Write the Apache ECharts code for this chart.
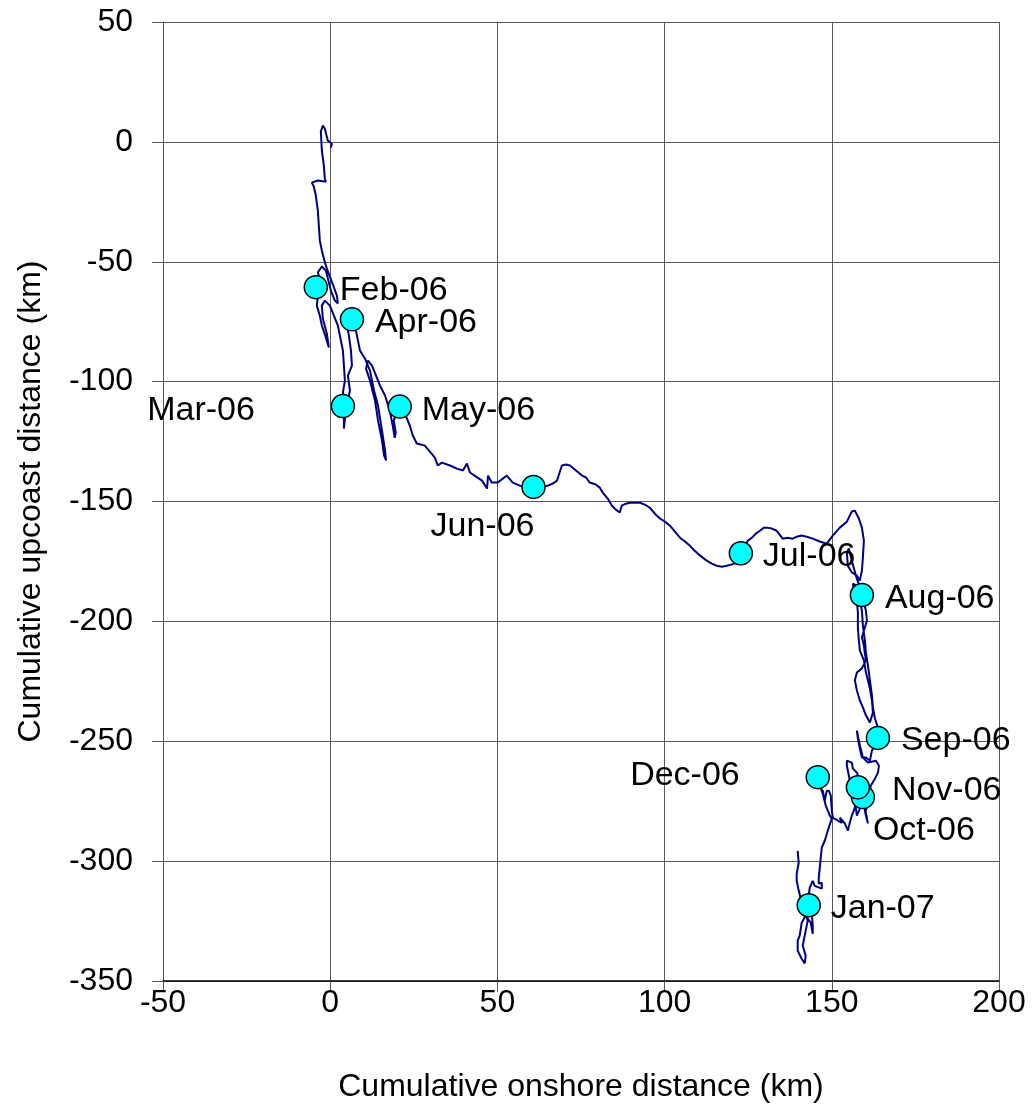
<!DOCTYPE html>
<html>
<head>
<meta charset="utf-8">
<title>Cumulative drift track</title>
<script src="https://cdn.jsdelivr.net/npm/echarts@6/dist/echarts.min.js"></script>
<style>
  html, body { margin: 0; padding: 0; background: #ffffff; }
  #chart { width: 1034px; height: 1114px; }
</style>
</head>
<body>
<div id="chart"></div>
<script>
// Cumulative drift track, km: [onshore, upcoast], split into monthly legs.
const legJanToFeb = [
  [0.2,-2.4],[0.5,-0.7],[-0.7,0.5],[-1.6,5.5],[-2.2,6.8],[-2.8,4.3],[-2.5,-3.6],[-1.9,-9.9],
  [-1.6,-15.3],[-1.3,-16.6],[-3.7,-16.1],[-5.5,-17.0],[-4.9,-18.6],[-4.3,-22.4],[-3.7,-28.6],
  [-3.4,-34.9],[-3.1,-41.2],[-2.5,-45.3],[-1.9,-48.7],[-1.0,-52.9],[-0.1,-56.2],[0.8,-59.5],
  [2.0,-64.1],[2.3,-67.4],[1.4,-66.2],[0.2,-62.0],[-1.3,-53.7],[-2.5,-52.0],[-3.7,-54.5],
  [-3.1,-57.0],[-4.3,-60.6]
];
const legFebToMar = [
  [-3.7,-64.5],[-4.0,-68.3],[-3.1,-72.5],[-2.5,-76.6],[-1.3,-81.6],[-0.4,-85.8],[-0.1,-85.0],
  [-1.0,-80.0],[-2.2,-73.7],[-2.5,-68.3],[-1.6,-66.2],[-0.1,-68.3],[1.1,-72.5],[2.3,-76.6],
  [2.9,-80.8],[3.8,-87.0],[4.1,-93.3],[4.4,-99.6],[3.8,-104.6],[4.4,-107.9],[3.8,-110.2]
];
const legMarToApr = [
  [4.1,-114.2],[4.1,-119.6],[4.4,-115.4],[5.3,-107.9],[5.9,-103.7],[5.3,-97.5],[6.5,-93.3],
  [6.2,-87.0],[5.6,-80.8],[5.0,-76.6],[6.5,-74.0]
];
const legAprToMay = [
  [7.4,-76.6],[8.3,-82.9],[8.9,-87.0],[10.4,-90.4],[11.9,-95.4],[13.1,-103.7],[14.3,-110.0],
  [15.5,-120.4],[16.4,-128.8],[16.7,-132.9],[16.1,-130.8],[15.5,-124.6],[14.3,-116.3],
  [13.4,-107.9],[11.9,-99.6],[10.7,-94.6],[11.3,-91.2],[12.5,-93.3],[13.7,-97.5],[14.9,-101.7],
  [16.4,-105.8],[17.8,-112.1],[18.7,-118.3],[19.3,-123.4],[19.6,-121.2],[19.0,-116.3],
  [19.9,-112.9],[20.8,-110.4]
];
const legMayToJun = [
  [22.6,-114.2],[23.8,-118.3],[24.7,-122.5],[25.9,-125.8],[28.3,-126.7],[29.8,-129.2],
  [31.3,-131.7],[32.2,-135.0],[33.4,-133.8],[35.8,-135.0],[37.9,-136.3],[39.7,-137.1],
  [40.9,-134.2],[41.8,-137.9],[43.6,-139.6],[45.4,-141.3],[46.9,-144.6],[47.2,-139.2],
  [48.3,-142.1],[50.1,-142.1],[52.8,-139.2],[54.6,-142.1],[56.7,-143.4],[58.2,-144.2],
  [60.8,-143.9]
];
const legJunToJul = [
  [63.0,-143.8],[65.1,-143.4],[66.6,-142.5],[67.8,-141.3],[69.3,-135.0],[70.5,-134.6],
  [71.7,-135.0],[73.5,-137.1],[75.3,-139.2],[76.5,-140.0],[77.6,-142.1],[79.4,-142.9],
  [80.6,-144.2],[81.5,-146.3],[83.0,-148.8],[84.2,-151.7],[85.4,-153.4],[86.6,-154.6],
  [87.2,-151.7],[88.4,-150.9],[89.6,-150.5],[91.1,-150.5],[92.6,-150.5],[94.1,-151.3],
  [95.6,-152.6],[97.1,-155.1],[98.6,-157.1],[100.1,-158.4],[101.6,-160.1],[103.1,-162.6],
  [104.6,-165.1],[106.1,-166.7],[107.5,-168.4],[108.7,-170.1],[109.9,-171.7],[111.4,-173.4],
  [112.6,-174.7],[114.1,-175.9],[115.6,-176.8],[117.1,-177.2],[118.6,-176.8],[121.0,-175.9],
  [122.8,-171.6]
];
const legJulToAug = [
  [124.9,-166.3],[126.1,-165.1],[127.3,-163.4],[128.5,-162.2],[129.7,-160.9],[130.6,-160.9],
  [132.1,-161.3],[133.5,-162.2],[134.4,-163.8],[135.3,-165.5],[136.8,-165.1],[138.3,-165.5],
  [139.5,-164.7],[141.0,-164.2],[142.5,-164.7],[144.3,-165.5],[146.4,-166.7],[148.5,-167.6],
  [150.3,-164.2],[152.4,-160.9],[154.5,-158.4],[156.0,-154.2],[156.9,-153.8],[158.1,-157.1],
  [159.0,-160.9],[159.6,-166.3],[159.3,-173.4],[159.0,-178.8],[158.4,-183.0],[157.5,-180.9],
  [156.0,-179.6],[154.8,-176.8],[154.5,-171.3],[155.1,-169.6],[156.0,-174.7],[157.2,-180.9],
  [158.4,-185.9],[159.0,-189.0]
];
const legAugToSep = [
  [160.2,-195.5],[160.5,-199.6],[159.6,-203.8],[159.0,-206.7],[159.6,-210.1],[159.9,-213.4],
  [160.2,-216.3],[159.0,-219.6],[157.5,-221.3],[156.9,-224.6],[157.5,-228.8],[158.4,-233.0],
  [159.3,-235.9],[160.2,-239.2],[161.4,-242.2],[162.3,-238.0],[162.0,-233.0],[161.4,-228.0],
  [160.8,-224.6],[160.2,-221.3],[159.6,-216.3],[158.4,-212.2],[158.1,-208.0],[157.8,-202.6],
  [157.8,-196.3],[157.5,-191.3],[156.6,-187.1],[156.3,-184.2],[157.2,-185.0],[158.1,-189.2],
  [159.0,-195.5],[159.3,-201.8],[159.9,-208.0],[160.2,-213.0],[160.8,-218.4],[161.4,-224.6],
  [162.0,-230.9],[162.3,-235.9],[162.9,-240.5],[163.8,-244.3],[163.8,-248.6]
];
const legSepToOct = [
  [162.9,-251.8],[162.0,-253.9],[161.4,-258.1],[160.2,-256.8],[159.0,-256.8],[158.4,-253.1],
  [157.8,-248.9],[157.5,-245.6],[158.4,-251.8],[159.3,-256.8],[160.8,-258.9],[163.2,-258.1],
  [164.1,-260.2],[163.8,-263.1],[162.9,-265.6],[161.7,-268.5],[160.8,-272.7],[160.5,-276.9],
  [160.2,-279.0],[159.6,-274.8],[159.3,-273.3]
];
const legOctToNov = [
  [160.8,-284.3],[160.2,-281.0],[159.6,-276.9],[158.4,-278.1],[157.5,-281.0],[156.9,-274.8],
  [156.3,-270.6],[155.4,-266.4],[154.5,-260.2],[154.5,-258.1],[156.0,-258.9],[156.3,-261.4],
  [157.5,-263.1],[158.4,-266.4],[157.8,-269.2]
];
const legNovToDec = [
  [156.9,-274.8],[156.9,-277.7],[156.0,-281.0],[155.4,-283.9],[154.8,-287.3],[153.9,-284.3],
  [152.4,-281.9],[153.0,-284.0],[151.8,-283.1],[150.3,-281.9],[150.0,-278.9],[149.7,-272.7],
  [149.1,-270.6],[148.5,-270.6],[147.9,-274.8],[147.3,-270.6],[146.4,-269.4],[145.8,-265.0]
];
const legDecToJan = [
  [146.4,-268.5],[147.3,-271.9],[148.2,-276.9],[149.4,-281.0],[150.0,-282.3],[148.8,-287.3],
  [147.9,-291.5],[147.0,-294.4],[146.7,-298.6],[146.4,-302.8],[146.1,-306.9],[146.1,-309.4],
  [147.0,-309.0],[147.0,-311.5],[144.9,-310.3],[144.3,-308.2],[143.4,-311.1],[143.1,-314.5],
  [143.1,-318.4]
];
const legAfterJan = [
  [144.0,-321.5],[144.3,-326.9],[144.3,-330.3],[143.7,-325.7],[142.2,-322.7],[141.0,-325.7],
  [140.4,-331.1],[139.8,-333.2],[139.8,-337.4],[141.0,-340.7],[141.9,-342.7],[142.2,-339.4],
  [141.3,-335.3],[142.2,-329.0],[142.8,-324.9],[141.3,-318.6],[140.1,-312.3],[139.5,-308.2],
  [139.5,-305.3],[140.1,-300.7],[139.8,-295.7]
];

// Monthly positions along the track
const monthNames = ['Feb-06','Mar-06','Apr-06','May-06','Jun-06','Jul-06','Aug-06','Sep-06','Oct-06','Nov-06','Dec-06','Jan-07'];
const monthOnshore = [-4.3, 3.8, 6.5, 20.8, 60.8, 122.8, 159.0, 163.8, 159.3, 157.8, 145.8, 143.1];
const monthUpcoast = [-60.6, -110.2, -74.0, -110.4, -143.9, -171.6, -189.0, -248.6, -273.3, -269.2, -265.0, -318.4];

// Axis ticks
const xTicks = { min: -50, max: 200, step: 50 };
const yTicks = { min: -350, max: 50, step: 50 };

const track = [].concat(
  legJanToFeb, legFebToMar, legMarToApr, legAprToMay, legMayToJun, legJunToJul,
  legJulToAug, legAugToSep, legSepToOct, legOctToNov, legNovToDec, legDecToJan, legAfterJan
);

// Where each month label sits relative to its dot
const labelPlacement = {
  'Feb-06': { align: 'left',   offset: [24, 3] },
  'Mar-06': { align: 'right',  offset: [-88, 5] },
  'Apr-06': { align: 'left',   offset: [23, 3] },
  'May-06': { align: 'left',   offset: [22, 4] },
  'Jun-06': { align: 'center', offset: [-51, 40] },
  'Jul-06': { align: 'left',   offset: [22, 3] },
  'Aug-06': { align: 'left',   offset: [23, 4] },
  'Sep-06': { align: 'left',   offset: [23, 3] },
  'Oct-06': { align: 'left',   offset: [10, 34] },
  'Nov-06': { align: 'left',   offset: [34, 3] },
  'Dec-06': { align: 'right',  offset: [-78, -2] },
  'Jan-07': { align: 'left',   offset: [22, 3] }
};

const FONT = '"Liberation Sans", Arial, sans-serif';
const TXT = 32;
const LABEL_TXT = 34;

const monthPoints = monthNames.map((name, i) => ({
  value: [monthOnshore[i], monthUpcoast[i]],
  name: name,
  label: {
    show: true,
    position: 'inside',
    align: labelPlacement[name].align,
    verticalAlign: 'middle',
    offset: labelPlacement[name].offset,
    formatter: name,
    color: '#000000',
    opacity: 1,
    textBorderWidth: 0,
    fontFamily: FONT,
    fontSize: LABEL_TXT
  }
}));

const chart = echarts.init(document.getElementById('chart'), null, { renderer: 'canvas' });

const gridColor = '#5a5a5a';

chart.setOption({
  animation: false,
  backgroundColor: '#ffffff',
  grid: { left: 163, right: 35, top: 22, bottom: 133, containLabel: false },
  xAxis: {
    type: 'value',
    min: xTicks.min, max: xTicks.max, interval: xTicks.step,
    name: 'Cumulative onshore distance (km)',
    nameLocation: 'middle',
    nameGap: 90,
    nameTextStyle: { color: '#000', fontFamily: FONT, fontSize: TXT },
    axisLine: { show: true, onZero: false, lineStyle: { color: '#000', width: 1.5 } },
    axisTick: { show: true, inside: false, length: 11, lineStyle: { color: gridColor, width: 1 } },
    axisLabel: { color: '#000', fontFamily: FONT, fontSize: TXT, margin: 6 },
    splitLine: { show: true, lineStyle: { color: gridColor, width: 1 } }
  },
  yAxis: {
    type: 'value',
    min: yTicks.min, max: yTicks.max, interval: yTicks.step,
    name: 'Cumulative upcoast distance (km)',
    nameLocation: 'middle',
    nameGap: 116,
    nameTextStyle: { color: '#000', fontFamily: FONT, fontSize: TXT },
    axisLine: { show: true, onZero: false, lineStyle: { color: gridColor, width: 1 } },
    axisTick: { show: true, inside: false, length: 11, lineStyle: { color: gridColor, width: 1 } },
    axisLabel: { color: '#000', fontFamily: FONT, fontSize: TXT, margin: 30 },
    splitLine: { show: true, lineStyle: { color: gridColor, width: 1 } }
  },
  series: [
    {
      name: 'track',
      type: 'line',
      data: track,
      showSymbol: false,
      symbol: 'none',
      smooth: false,
      lineStyle: { color: '#000080', width: 2 },
      z: 2
    },
    {
      name: 'months',
      type: 'scatter',
      data: monthPoints,
      symbol: 'circle',
      symbolSize: 23,
      itemStyle: { color: '#00ffff', borderColor: '#000000', borderWidth: 1.5, opacity: 1 },
      emphasis: { disabled: true },
      z: 3
    }
  ]
});
</script>
</body>
</html>
